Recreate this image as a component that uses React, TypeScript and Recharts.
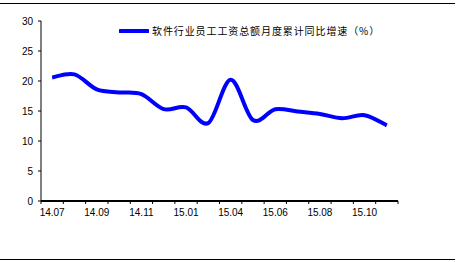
import { Line, LineChart, XAxis, YAxis } from 'recharts';

const months = [
  '14.07', '14.08', '14.09', '14.10', '14.11', '14.12', '15.01', '15.03',
  '15.04', '15.05', '15.06', '15.07', '15.08', '15.09', '15.10', '15.11',
];
const growth = [20.6, 21.1, 18.6, 18.1, 17.8, 15.3, 15.6, 13.0, 20.2, 13.5, 15.3, 14.9, 14.5, 13.8, 14.3, 12.6];
const yTicks = [0, 5, 10, 15, 20, 25, 30];
const seriesName = '软件行业员工工资总额月度累计同比增速（%）';

const data = months.map((m, i) => ({ month: m, value: growth[i] }));

const W = 457;
const H = 262;
const margin = { top: 21, right: 59, left: 0, bottom: 31 };
const yAxisWidth = 41;
const bandWidth = (W - margin.left - yAxisWidth - margin.right) / months.length;
const font = '"Liberation Sans", Arial, sans-serif';

// Excel-style smoothed line (uniform Catmull-Rom through every point)
const smoothCurve = (context: any) => {
  let pts: [number, number][] = [];
  return {
    areaStart() {},
    areaEnd() {},
    lineStart() {
      pts = [];
    },
    point(x: number, y: number) {
      pts.push([+x, +y]);
    },
    lineEnd() {
      if (!pts.length) return;
      context.moveTo(pts[0][0], pts[0][1]);
      for (let i = 0; i < pts.length - 1; i++) {
        const p0 = pts[Math.max(i - 1, 0)];
        const p1 = pts[i];
        const p2 = pts[i + 1];
        const p3 = pts[Math.min(i + 2, pts.length - 1)];
        context.bezierCurveTo(
          p1[0] + (p2[0] - p0[0]) / 6,
          p1[1] + (p2[1] - p0[1]) / 6,
          p2[0] - (p3[0] - p1[0]) / 6,
          p2[1] - (p3[1] - p1[1]) / 6,
          p2[0],
          p2[1],
        );
      }
    },
  };
};

// tick marks sit between categories; labels on every other category
function MonthTick(props: any) {
  const { x, y, index, payload } = props;
  const left = x - bandWidth / 2;
  return (
    <g>
      <line x1={left} y1={y} x2={left} y2={y + 3} stroke="#000" />
      {index === months.length - 1 && (
        <line x1={x + bandWidth / 2} y1={y} x2={x + bandWidth / 2} y2={y + 3} stroke="#000" />
      )}
      {index % 2 === 0 && (
        <text x={x} y={y + 15} textAnchor="middle" fontSize={10} fontFamily={font} fill="#000">
          {payload.value}
        </text>
      )}
    </g>
  );
}

function LegendBox() {
  return (
    <div
      style={{
        position: 'absolute',
        left: 119,
        top: 25,
        display: 'flex',
        alignItems: 'center',
        whiteSpace: 'nowrap',
      }}
    >
      <svg width={30} height={8} style={{ display: 'block' }}>
        <line x1={1} y1={4} x2={29} y2={4} stroke="#0000FF" strokeWidth={4} strokeLinecap="round" />
      </svg>
      <span
        style={{
          marginLeft: 3,
          fontSize: 10,
          letterSpacing: 0.9,
          fontFamily: '"Noto Sans CJK SC", sans-serif',
          color: '#000',
          lineHeight: '12px',
        }}
      >
        {seriesName}
      </span>
    </div>
  );
}

export default function App() {
  return (
    <div style={{ position: 'absolute', left: 0, top: 0, width: W, height: H, background: '#fff' }}>
      <div style={{ position: 'absolute', left: 0, top: 3, width: 455, height: 1, background: '#000' }} />
      <div style={{ position: 'absolute', left: 0, top: 259, width: 455, height: 1, background: '#000' }} />
      <LineChart width={W} height={H} data={data} margin={margin}>
        <XAxis
          dataKey="month"
          scale="band"
          interval={0}
          tickLine={false}
          tickSize={0}
          tickMargin={0}
          height={30}
          axisLine={{ stroke: '#000', strokeWidth: 2 }}
          tick={<MonthTick />}
        />
        <YAxis
          width={yAxisWidth}
          domain={[0, 30]}
          ticks={yTicks}
          interval={0}
          tickSize={3}
          tickMargin={5}
          axisLine={{ stroke: '#000' }}
          tickLine={{ stroke: '#000' }}
          tick={{ fontSize: 10, fontFamily: font, fill: '#000' }}
        />
        <Line
          dataKey="value"
          name={seriesName}
          type={smoothCurve as any}
          stroke="#0000FF"
          strokeWidth={4}
          dot={false}
          activeDot={false}
          isAnimationActive={false}
        />
      </LineChart>
      <LegendBox />
    </div>
  );
}
